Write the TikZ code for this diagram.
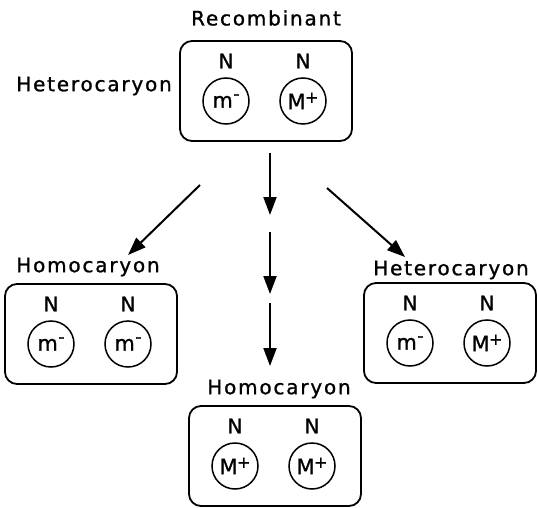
\documentclass[tikz,border=0pt]{standalone}
\usepackage{fontspec}
\setmainfont{DejaVu Sans}[FakeBold=1.1]
\newfontfamily\lblfont{DejaVu Sans}[LetterSpace=9, FakeBold=1.1]
\usetikzlibrary{arrows.meta}
% nucleus labels with raised signs
\newcommand\mminus{m\kern0.5pt\raisebox{0.38em}{\fontsize{17pt}{17pt}\selectfont -}}
\newcommand\Mplus{M\kern-0.5pt\raisebox{0.30em}{\fontsize{16pt}{16pt}\selectfont +}}
\begin{document}
\begin{tikzpicture}[x=1pt,y=-1pt,
  cell/.style={draw, line width=1.8pt, rounded corners=12pt,
    minimum width=172pt, minimum height=100pt, inner sep=0pt},
  nuc/.style={draw, circle, line width=1.5pt, minimum size=46pt,
    inner sep=0pt, font=\fontsize{21}{21}\selectfont},
  nlab/.style={inner sep=0pt, font=\fontsize{20}{20}\selectfont},
  title/.style={inner sep=0pt, font=\lblfont\fontsize{20}{20}\selectfont},
  arr/.style={line width=2pt, -{Triangle[length=18pt,width=13pt]}}]
\useasboundingbox (0,0) rectangle (538,508);

% recombinant heterocaryon (top)
\node[cell] (top) at (266,91) {};
\node[title] (toplab) at (266,18) {Recombinant};
\node[title, anchor=east] (topside) at (172,86) {Heterocaryon};
\node[nlab] (tn1) at (226,61) {N};
\node[nlab] (tn2) at (303,61) {N};
\node[nuc] (tc1) at (226,101) {\mminus};
\node[nuc] (tc2) at (303,101) {\Mplus};

% homocaryon (left)
\node[cell] (left) at (91,334) {};
\node[title] (leftlab) at (88,267) {Homocaryon};
\node[nlab] (ln1) at (51,304) {N};
\node[nlab] (ln2) at (128,304) {N};
\node[nuc] (lc1) at (51,344) {\mminus};
\node[nuc] (lc2) at (128,344) {\mminus};

% heterocaryon (right)
\node[cell] (right) at (450,333) {};
\node[title] (rightlab) at (451,270) {Heterocaryon};
\node[nlab] (rn1) at (410,303) {N};
\node[nlab] (rn2) at (487,303) {N};
\node[nuc] (rc1) at (410,343) {\mminus};
\node[nuc] (rc2) at (487,343) {\Mplus};

% homocaryon (bottom)
\node[cell] (bot) at (275,456) {};
\node[title] (botlab) at (279,389) {Homocaryon};
\node[nlab] (bn1) at (235,426) {N};
\node[nlab] (bn2) at (312,426) {N};
\node[nuc] (bc1) at (235,466) {\Mplus};
\node[nuc] (bc2) at (312,466) {\Mplus};

% arrow end points
\coordinate (la) at (200,185);
\coordinate (lb) at (128,255);
\coordinate (ra) at (327,188);
\coordinate (rb) at (405,257);
\coordinate (m0) at (270,153);
\coordinate (m1) at (270,215);
\coordinate (m2) at (270,232);
\coordinate (m3) at (270,294);
\coordinate (m4) at (270,303);
\coordinate (m5) at (270,366);

\draw[arr] (la) -- (lb);
\draw[arr] (ra) -- (rb);
\draw[arr] (m0) -- (m1);
\draw[arr] (m2) -- (m3);
\draw[arr] (m4) -- (m5);
\end{tikzpicture}
\end{document}
